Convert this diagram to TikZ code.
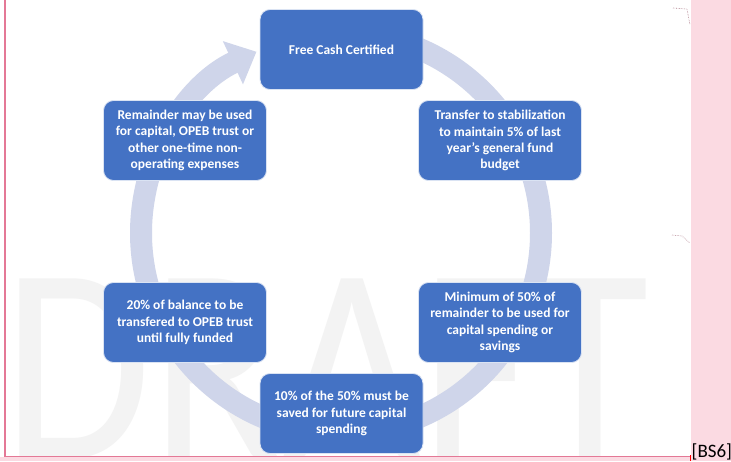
\documentclass[tikz,border=0pt]{standalone}
\usepackage{fontspec}
\setmainfont{Carlito}
\usetikzlibrary{arrows.meta}
\definecolor{boxblue}{RGB}{68,114,196}
\definecolor{ringcol}{RGB}{207,213,234}
\definecolor{wmark}{RGB}{243,243,243}
\definecolor{pinkbg}{RGB}{251,218,226}
\definecolor{pinkline}{RGB}{228,120,150}
\begin{document}
\begin{tikzpicture}[x=1pt,y=-1pt,
  stepbox/.style={draw=white!80!boxblue, line width=0.8pt, fill=boxblue,
    rounded corners=10pt, minimum width=163pt, minimum height=80pt,
    align=center, text=white, inner sep=2pt,
    font=\fontsize{13.5}{16.2}\selectfont\bfseries},
  ring/.style={ringcol, line width=22pt, -{Triangle[width=46pt,length=26pt]}},
  marker/.style={gray!55!pinkline, densely dotted, line width=0.6pt}]
\useasboundingbox (0,0) rectangle (731,461);
\fill[white] (0,0) rectangle (731,461);
% watermark
\node[anchor=base west, text=wmark, inner sep=0pt, xscale=0.86,
  font=\fontsize{280}{280}\selectfont] (wm) at (3,458) {DRAFT};
% cycle ring
\draw[ring] (341,233) ++(-90:200) arc[start angle=-90, end angle=245, radius=200];
% boxes
\node[stepbox] (fcc) at (341.5,49.5) {Free Cash Certified};
\node[stepbox] (tr) at (500,140.5) {Transfer to stabilization\\to maintain 5\% of last\\year’s general fund\\budget};
\node[stepbox] (rem) at (185,140.5) {Remainder may be used\\for capital, OPEB trust or\\other one-time non-\\operating expenses};
\node[stepbox] (opeb) at (185,322.5) {20\% of balance to be\\transfered to OPEB trust\\until fully funded};
\node[stepbox] (minc) at (500,322.5) {Minimum of 50\% of\\remainder to be used for\\capital spending or\\savings};
\node[stepbox] (ten) at (341.5,413.5) {10\% of the 50\% must be\\saved for future capital\\spending};
% comment markers
\coordinate (m1a) at (673,8); \coordinate (m1b) at (687,9); \coordinate (m1c) at (690,25);
\draw[marker] (m1a) -- (m1b) -- (m1c);
\coordinate (m2a) at (672,235); \coordinate (m2b) at (682,236); \coordinate (m2c) at (690,243);
\draw[marker] (m2a) -- (m2b) -- (m2c);
% page margins
\fill[pinkbg] (691,0) rectangle (731,461);
\fill[pinkbg] (0,456.5) rectangle (691,461);
\draw[pinkline, line width=1.4pt] (4.8,0) -- (4.8,456.5);
\draw[pinkline, line width=0.5pt] (4.8,456.5) -- (691,456.5);
\draw[red, line width=0.8pt] (690.5,455) -- (690.5,461);
\node[anchor=base west, inner sep=0pt, font=\fontsize{19}{19}\selectfont] (bs) at (691.5,457.5) {[BS6]};
\end{tikzpicture}
\end{document}
